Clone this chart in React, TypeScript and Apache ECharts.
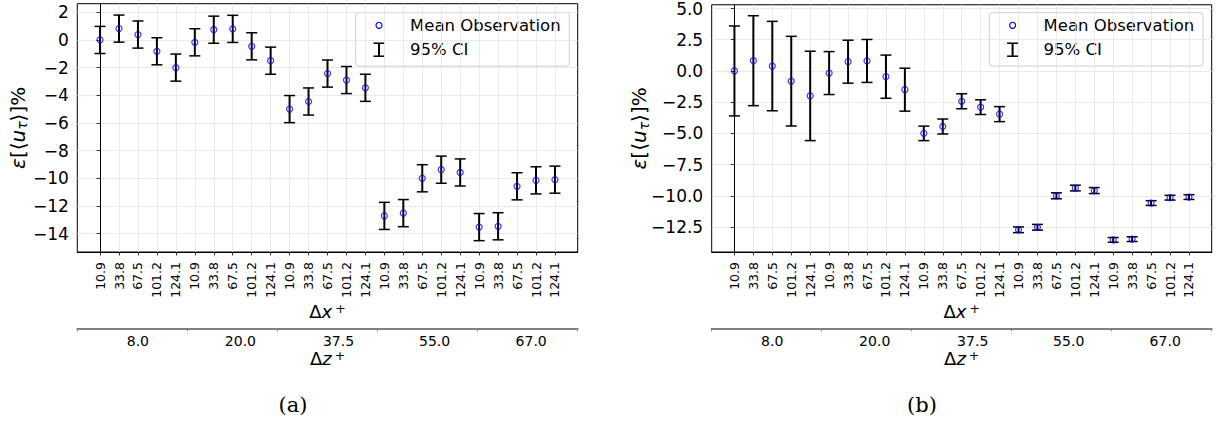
import React, { useEffect, useRef } from 'react';
import * as echarts from 'echarts';

// ---------- data ----------
const categories = [
  '10.9', '33.8', '67.5', '101.2', '124.1',
  '10.9', '33.8', '67.5', '101.2', '124.1',
  '10.9', '33.8', '67.5', '101.2', '124.1',
  '10.9', '33.8', '67.5', '101.2', '124.1',
  '10.9', '33.8', '67.5', '101.2', '124.1',
];
const dzLabels = ['8.0', '20.0', '37.5', '55.0', '67.0'];
const means = [
  0.0, 0.82, 0.39, -0.82, -2.0,
  -0.17, 0.74, 0.8, -0.46, -1.5,
  -5.0, -4.45, -2.43, -2.9, -3.46,
  -12.72, -12.52, -10.0, -9.38, -9.58,
  -13.53, -13.47, -10.58, -10.15, -10.1,
];
const ciA = [
  0.98, 0.98, 0.98, 0.98, 0.98,
  0.98, 0.98, 0.98, 0.98, 0.98,
  0.98, 0.98, 0.98, 0.98, 0.98,
  0.98, 0.98, 0.98, 0.98, 0.98,
  0.98, 0.98, 0.98, 0.98, 0.98,
];
const ciB = [
  3.6, 3.6, 3.58, 3.59, 3.58,
  1.72, 1.72, 1.72, 1.73, 1.72,
  0.58, 0.6, 0.6, 0.59, 0.6,
  0.23, 0.23, 0.24, 0.23, 0.24,
  0.19, 0.19, 0.19, 0.19, 0.19,
];
const yTicksA = [-14, -12, -10, -8, -6, -4, -2, 0, 2];
const yTicksB = [-12.5, -10, -7.5, -5, -2.5, 0, 2.5, 5];
const dzTickPos = [0, 0.22, 0.4, 0.6, 0.8, 1];
const dzLabelPos = [0.121, 0.326, 0.522, 0.714, 0.907];
const legendNames = ['Mean Observation', '95% CI'];

const FONT = 'DejaVu Sans';
const fmtNum = (v: number, dec: number) =>
  (v < 0 ? '\u2212' : '') + Math.abs(v).toFixed(dec);

const panels = [
  { left: 77.3, width: 500.4, yMin: -15.33, yMax: 2.62, yTicks: yTicksA, dec: 0, ci: ciA, nameGap: 48, legendLeft: 355.7, caption: '(a)', capX: 293 },
  { left: 711.7, width: 500, yMin: -14.5, yMax: 5.3, yTicks: yTicksB, dec: 1, ci: ciB, nameGap: 61, legendLeft: 989.3, caption: '(b)', capX: 922 },
];

const gridColor = '#e4e4e4';

export default function App() {
  const ref = useRef<HTMLDivElement>(null);
  useEffect(() => {
    if (!ref.current) return;
    const chart = echarts.init(ref.current, null, { renderer: 'svg' });
    const idx = categories.map((_, k) => k);

    const grids: any[] = [];
    const xAxes: any[] = [];
    const yAxes: any[] = [];
    const series: any[] = [];
    const graphics: any[] = [];

    const nameRich = {
      d: { fontSize: 18, fontFamily: FONT, color: '#000' },
      x: { fontSize: 18, fontFamily: FONT, fontStyle: 'italic', color: '#000' },
      p: { fontSize: 12.5, fontFamily: FONT, color: '#000', verticalAlign: 'top', padding: [0, 0, 0, 3] },
    };

    panels.forEach((p, i) => {
      grids.push({
        left: p.left, top: 3.7, width: p.width, height: 248.3,
        show: true, borderColor: '#000', borderWidth: 1, backgroundColor: 'transparent',
      });
      xAxes.push({
        type: 'value', gridIndex: i, min: -1.2, max: 25.2, position: 'bottom',
        axisLine: { show: true, onZero: false, lineStyle: { color: '#000', width: 1 } },
        axisTick: { show: true, customValues: idx, length: 3.5, lineStyle: { color: '#000', width: 0.8 } },
        axisLabel: {
          customValues: idx, rotate: 90, margin: 10, fontSize: 12.5, fontFamily: FONT, color: '#000',
          formatter: (v: number) => categories[Math.round(v)],
        },
        splitLine: { show: true, lineStyle: { color: gridColor, width: 0.8 } },
        name: '{d|Δ}{x|x}{p|+}', nameLocation: 'middle', nameGap: 50, nameMoveOverlap: false,
        nameTextStyle: { rich: nameRich },
      });
      xAxes.push({
        type: 'value', gridIndex: i, min: 0, max: 1, position: 'bottom', offset: 76.3,
        axisLine: { show: true, onZero: false, lineStyle: { color: '#808080', width: 2 } },
        axisTick: { show: true, customValues: dzTickPos, length: 3, lineStyle: { color: '#808080', width: 1 } },
        axisLabel: {
          customValues: dzLabelPos, margin: 5.5, fontSize: 14, fontFamily: FONT, color: '#000',
          formatter: (v: number) => {
            let best = 0;
            dzLabelPos.forEach((q, k) => { if (Math.abs(q - v) < Math.abs(dzLabelPos[best] - v)) best = k; });
            return dzLabels[best];
          },
        },
        splitLine: { show: false },
        name: '{d|Δ}{x|z}{p|+}', nameLocation: 'middle', nameGap: 21, nameMoveOverlap: false,
        nameTextStyle: { rich: nameRich },
      });
      yAxes.push({
        type: 'value', gridIndex: i, min: p.yMin, max: p.yMax,
        axisLine: { show: true, lineStyle: { color: '#000', width: 1 } },
        axisTick: { show: true, customValues: p.yTicks, length: 3.5, lineStyle: { color: '#000', width: 0.8 } },
        axisLabel: {
          customValues: p.yTicks, margin: 8.5, fontSize: 17, fontFamily: FONT, color: '#000',
          formatter: (v: number) => fmtNum(v, p.dec),
        },
        splitLine: { show: true, lineStyle: { color: gridColor, width: 0.8 } },
        name: '{e|ε}{n|[⟨}{u|u}{s|τ}{n|⟩]%}', nameLocation: 'middle', nameRotate: 90,
        nameGap: p.nameGap, nameMoveOverlap: false,
        nameTextStyle: {
          rich: {
            e: { fontSize: 20, fontFamily: FONT, fontStyle: 'italic', color: '#000' },
            n: { fontSize: 20, fontFamily: FONT, color: '#000' },
            u: { fontSize: 20, fontFamily: FONT, fontStyle: 'italic', color: '#000' },
            s: { fontSize: 14, fontFamily: FONT, fontStyle: 'italic', color: '#000', padding: [9, 0, 0, 0] },
          },
        },
      });
      series.push({
        type: 'custom', name: legendNames[1], xAxisIndex: 2 * i, yAxisIndex: i, z: 2,
        data: means.map((m, k) => [k, m - p.ci[k], m + p.ci[k]]),
        encode: { x: 0, y: [1, 2] },
        renderItem: (params: any, api: any) => {
          const x = api.value(0);
          const lo = api.coord([x, api.value(1)]);
          const hi = api.coord([x, api.value(2)]);
          const cw = 5.5;
          return {
            type: 'group',
            children: [
              { type: 'line', shape: { x1: lo[0], y1: lo[1], x2: hi[0], y2: hi[1] }, style: { stroke: '#000', lineWidth: 2 } },
              { type: 'line', shape: { x1: hi[0] - cw, y1: hi[1], x2: hi[0] + cw, y2: hi[1] }, style: { stroke: '#000', lineWidth: 1.5 } },
              { type: 'line', shape: { x1: lo[0] - cw, y1: lo[1], x2: lo[0] + cw, y2: lo[1] }, style: { stroke: '#000', lineWidth: 1.5 } },
            ],
          };
        },
      });
      series.push({
        type: 'scatter', name: legendNames[0], xAxisIndex: 2 * i, yAxisIndex: i, z: 3,
        data: means.map((m, k) => [k, m]),
        symbol: 'circle', symbolSize: 6,
        itemStyle: { color: 'rgba(0,0,0,0)', borderColor: '#0000ff', borderWidth: 1.2 },
        emphasis: { disabled: true },
      });

      // legend box (drawn as graphic for exact placement)
      const L = p.legendLeft;
      const mx = L + 23.3;
      const r1 = 25.3;
      const r2 = 49.7;
      graphics.push({
        type: 'group', z: 100,
        children: [
          { type: 'rect', shape: { x: L, y: 12.7, width: 213.6, height: 53.3, r: 3 }, style: { fill: 'rgba(255,255,255,0.8)', stroke: '#cccccc', lineWidth: 1 } },
          { type: 'circle', shape: { cx: mx, cy: r1, r: 3 }, style: { fill: 'none', stroke: '#0000ff', lineWidth: 1.2 } },
          { type: 'line', shape: { x1: mx, y1: r2 - 6.5, x2: mx, y2: r2 + 6.5 }, style: { stroke: '#000', lineWidth: 2 } },
          { type: 'line', shape: { x1: mx - 5.5, y1: r2 - 6.5, x2: mx + 5.5, y2: r2 - 6.5 }, style: { stroke: '#000', lineWidth: 1.5 } },
          { type: 'line', shape: { x1: mx - 5.5, y1: r2 + 6.5, x2: mx + 5.5, y2: r2 + 6.5 }, style: { stroke: '#000', lineWidth: 1.5 } },
          { type: 'text', x: L + 54.3, y: r1, style: { text: legendNames[0], font: `16.5px "${FONT}"`, fill: '#000', verticalAlign: 'middle', textVerticalAlign: 'middle' } },
          { type: 'text', x: L + 54.3, y: r2, style: { text: legendNames[1], font: `16.5px "${FONT}"`, fill: '#000', verticalAlign: 'middle', textVerticalAlign: 'middle' } },
        ],
      });
      graphics.push({
        type: 'text', x: p.capX, y: 405,
        style: { text: p.caption, font: '21px "DejaVu Serif"', fill: '#000', align: 'center', verticalAlign: 'middle', textAlign: 'center', textVerticalAlign: 'middle' },
      });
    });

    chart.setOption({
      animation: false,
      backgroundColor: '#fff',
      grid: grids,
      xAxis: xAxes,
      yAxis: yAxes,
      series,
      graphic: graphics,
    });
    return () => chart.dispose();
  }, []);
  return <div ref={ref} style={{ position: 'absolute', left: 0, top: 0, width: 1218, height: 423 }} />;
}
